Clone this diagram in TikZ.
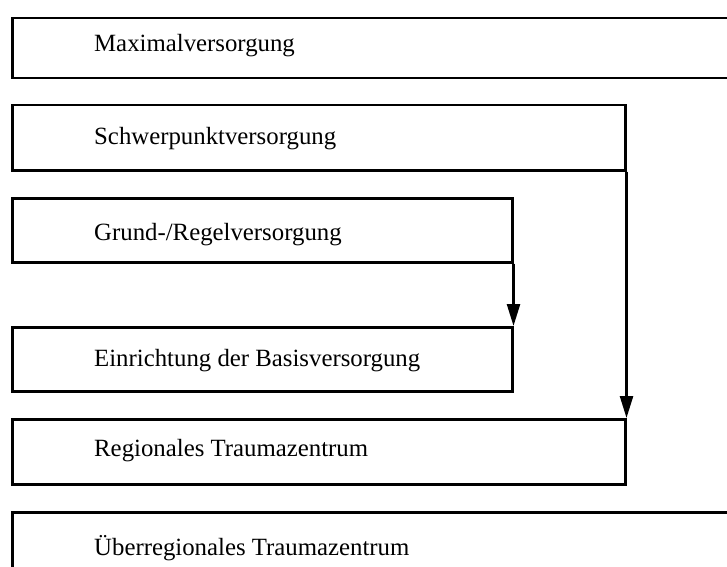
\documentclass[tikz,border=0pt]{standalone}
\usepackage{fontspec}
\setmainfont{Liberation Serif}
\usetikzlibrary{arrows.meta}
\begin{document}
\begin{tikzpicture}[x=1bp,y=-1bp,
  box/.style={draw,line width=2.5bp,rectangle,anchor=north west,inner sep=0pt},
  lbl/.style={anchor=base west,inner sep=0pt,font=\fontsize{24.8bp}{29bp}\selectfont},
  arr/.style={line width=2.5bp,-{Triangle[length=22bp,width=13bp]}}]
  \useasboundingbox (0,0) rectangle (727,567);
  \clip (0,0) rectangle (727,567);
  % care levels, top to bottom
  \node[box,minimum width=740bp,minimum height=60bp] (b1) at (11,17) {};
  \node[box,minimum width=613bp,minimum height=65bp] (b2) at (11,104) {};
  \node[box,minimum width=500bp,minimum height=64bp] (b3) at (11,197) {};
  \node[box,minimum width=500bp,minimum height=64bp] (b4) at (11,326) {};
  \node[box,minimum width=613bp,minimum height=65bp] (b5) at (11,418) {};
  \node[box,minimum width=740bp,minimum height=70bp] (b6) at (11,511) {};
  % labels
  \node[lbl] (t1) at (94,52) {Maximalversorgung};
  \node[lbl] (t2) at (94,145) {Schwerpunktversorgung};
  \node[lbl] (t3) at (94,240) {Grund-/Regelversorgung};
  \node[lbl] (t4) at (94,366) {Einrichtung der Basisversorgung};
  \node[lbl] (t5) at (94,456) {Regionales Traumazentrum};
  \node[lbl] (t6) at (94,555) {Überregionales Traumazentrum};
  % correspondences
  \draw[arr] (b3.south east) -- (b4.north east);
  \draw[arr] (b2.south east) -- (b5.north east);
\end{tikzpicture}
\end{document}
